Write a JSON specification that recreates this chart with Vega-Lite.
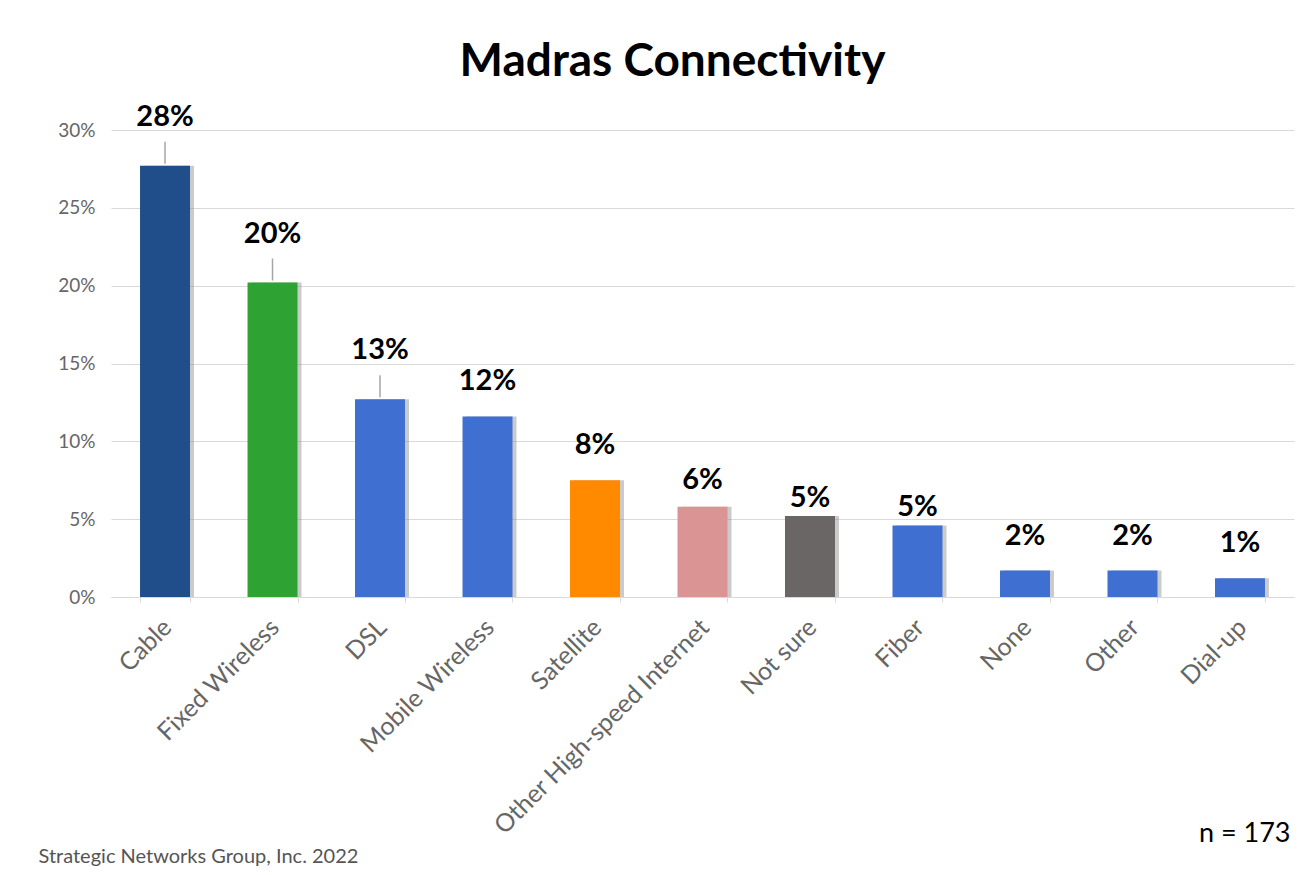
{
  "$schema": "https://vega.github.io/schema/vega-lite/v6.json",
  "width": 1183,
  "height": 467,
  "autosize": {"type": "none"},
  "padding": {"left": 111, "top": 130, "right": 13, "bottom": 278},
  "background": "white",
  "title": {
    "text": "Madras Connectivity",
    "font": "Lato",
    "fontSize": 46,
    "fontWeight": "bold",
    "color": "#000000",
    "anchor": "middle",
    "frame": "group",
    "baseline": "alphabetic",
    "dx": -30,
    "offset": -19
  },
  "data": {
    "values": [
      {"category": "Cable", "pct": 27.7, "label": "28%"},
      {"category": "Fixed Wireless", "pct": 20.2, "label": "20%"},
      {"category": "DSL", "pct": 12.7, "label": "13%"},
      {"category": "Mobile Wireless", "pct": 11.6, "label": "12%"},
      {"category": "Satellite", "pct": 7.5, "label": "8%"},
      {"category": "Other High-speed Internet", "pct": 5.8, "label": "6%"},
      {"category": "Not sure", "pct": 5.2, "label": "5%"},
      {"category": "Fiber", "pct": 4.6, "label": "5%"},
      {"category": "None", "pct": 1.7, "label": "2%"},
      {"category": "Other", "pct": 1.7, "label": "2%"},
      {"category": "Dial-up", "pct": 1.2, "label": "1%"}
    ]
  },
  "encoding": {
    "x": {
      "field": "category",
      "type": "nominal",
      "sort": null,
      "scale": {"paddingInner": 0.535, "paddingOuter": 0.27},
      "axis": {
        "title": "Strategic Networks Group, Inc. 2022",
        "titleFont": "Lato",
        "titleFontSize": 20,
        "titleFontWeight": "normal",
        "titleColor": "#555555",
        "titleX": -73,
        "titleY": 265,
        "titleAlign": "left",
        "titleBaseline": "alphabetic",
        "labelAngle": -45,
        "labelAlign": "right",
        "labelBaseline": "middle",
        "labelFont": "Lato",
        "labelFontSize": 25,
        "labelColor": "#666666",
        "labelPadding": 21,
        "labelOffset": 2,
        "labelLimit": 500,
        "labelOverlap": false,
        "domainColor": "#d9d9d9",
        "tickColor": "#d9d9d9",
        "tickSize": 5,
        "tickBand": "extent",
        "grid": false
      }
    },
    "y": {
      "field": "pct",
      "type": "quantitative",
      "scale": {"domain": [0, 30]},
      "axis": {
        "title": "n = 173",
        "titleAngle": 0,
        "titleX": 1179,
        "titleY": 711,
        "titleAlign": "right",
        "titleBaseline": "alphabetic",
        "titleFont": "Lato",
        "titleFontSize": 27,
        "titleFontWeight": "normal",
        "titleColor": "#000000",
        "values": [0, 5, 10, 15, 20, 25, 30],
        "labelExpr": "datum.value + '%'",
        "labelFont": "Lato",
        "labelFontSize": 19,
        "labelColor": "#666666",
        "labelPadding": 16,
        "ticks": false,
        "domain": false,
        "gridColor": "#d9d9d9"
      }
    }
  },
  "layer": [
    {
      "mark": {"type": "bar", "color": "#8c8c8c", "opacity": 0.45, "xOffset": 4}
    },
    {
      "mark": {"type": "bar"},
      "encoding": {
        "color": {
          "field": "category",
          "type": "nominal",
          "legend": null,
          "scale": {
            "domain": ["Cable", "Fixed Wireless", "DSL", "Mobile Wireless", "Satellite", "Other High-speed Internet", "Not sure", "Fiber", "None", "Other", "Dial-up"],
            "range": ["#1f4e8a", "#2fa234", "#3f6fd0", "#3f6fd0", "#ff8a00", "#d99493", "#6b6666", "#3f6fd0", "#3f6fd0", "#3f6fd0", "#3f6fd0"]
          }
        }
      }
    },
    {
      "transform": [{"filter": {"field": "category", "oneOf": ["Cable", "Fixed Wireless", "DSL"]}}],
      "mark": {"type": "point", "shape": "stroke", "angle": 90, "size": 484, "color": "#a6a6a6", "strokeWidth": 1.5, "filled": false, "yOffset": -13, "opacity": 1}
    },
    {
      "transform": [{"filter": {"field": "category", "oneOf": ["Cable", "Fixed Wireless", "DSL"]}}],
      "mark": {"type": "text", "dy": -40, "baseline": "alphabetic", "font": "Lato", "fontSize": 29, "fontWeight": "bold", "color": "#000000"},
      "encoding": {"text": {"field": "label"}}
    },
    {
      "transform": [{"filter": {"field": "category", "oneOf": ["Mobile Wireless", "Satellite", "None", "Other", "Dial-up"]}}],
      "mark": {"type": "text", "dy": -26, "baseline": "alphabetic", "font": "Lato", "fontSize": 29, "fontWeight": "bold", "color": "#000000"},
      "encoding": {"text": {"field": "label"}}
    },
    {
      "transform": [{"filter": {"field": "category", "oneOf": ["Other High-speed Internet"]}}],
      "mark": {"type": "text", "dy": -18, "baseline": "alphabetic", "font": "Lato", "fontSize": 29, "fontWeight": "bold", "color": "#000000"},
      "encoding": {"text": {"field": "label"}}
    },
    {
      "transform": [{"filter": {"field": "category", "oneOf": ["Not sure", "Fiber"]}}],
      "mark": {"type": "text", "dy": -9, "baseline": "alphabetic", "font": "Lato", "fontSize": 29, "fontWeight": "bold", "color": "#000000"},
      "encoding": {"text": {"field": "label"}}
    }
  ],
  "config": {"view": {"stroke": null}, "font": "Lato"}
}
